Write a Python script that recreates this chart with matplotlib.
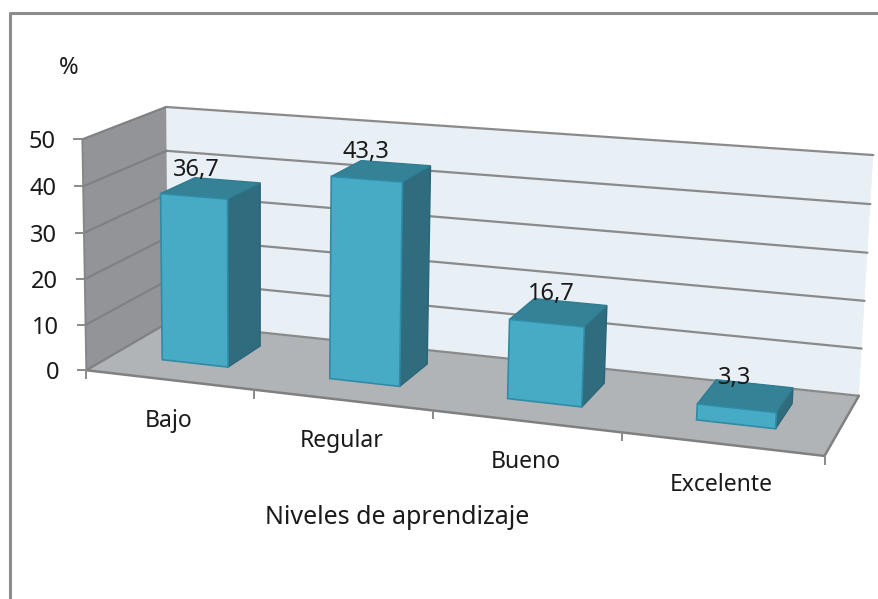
#!/usr/bin/env python3
"""Excel style 3D column chart: niveles de aprendizaje."""

import numpy as np
import matplotlib
matplotlib.use("Agg")
import matplotlib.pyplot as plt
from matplotlib.patches import Polygon

categories = ["Bajo", "Regular", "Bueno", "Excelente"]
values = [36.7, 43.3, 16.7, 3.3]
value_labels = ["36,7", "43,3", "16,7", "3,3"]
y_ticks = [0, 10, 20, 30, 40, 50]

BAR_WIDTH = 0.40
BAR_CENTER = 0.50
BAR_FRONT = 0.32
BAR_BACK = 0.75

# nudges of the value labels, from the top back left corner of a column
LABEL_DX = [1, 5, 17, 18]
LABEL_DY = [-8, -9, -5, -2]

FRONT = "#47abc6"
SIDE = "#2f6c7e"
TOP = "#358196"
EDGE = "#2f8ba6"
GRID = "#8a8a8a"
TEXT = "#1a1a1a"

# camera calibration: (category, value, depth) -> pixel, fitted below
# the back left corners are listed twice to weigh them more
CALIB = [
    (0, 0, 0, 91, 369), (1, 0, 0, 256, 390), (2, 0, 0, 433, 412),
    (3, 0, 0, 622, 434), (4, 0, 0, 823, 456),
    (0, 50, 0, 77, 137), (0, 0, 1, 165, 322), (0, 50, 1, 168, 108),
    (0, 50, 1, 168, 108), (0, 50, 1, 168, 108), (0, 0, 1, 165, 322),
    (4, 0, 1, 860, 395), (4, 50, 1, 873, 154),
    (4, 10, 1, 862, 348), (4, 20, 1, 865, 301),
    (4, 30, 1, 867, 253), (4, 40, 1, 870, 204),
]


def fit_camera(points):
    rows = []
    for u, v, w, x, y in points:
        p = [u, v / 10, w * 4, 1]
        rows.append(p + [0, 0, 0, 0] + [-x * c for c in p])
        rows.append([0, 0, 0, 0] + p + [-y * c for c in p])
    _, _, vt = np.linalg.svd(np.array(rows, dtype=float))
    return vt[-1].reshape(3, 4)


CAM = fit_camera(CALIB)


def proj(u, v, w):
    px = CAM @ np.array([u, v / 10, w * 4, 1.0])
    return px[0] / px[2], px[1] / px[2]


def face(ax, pts, color, edge=None, lw=0.0, z=1):
    ax.add_patch(Polygon([proj(*p) for p in pts], closed=True, facecolor=color,
                         edgecolor=edge if edge else color, linewidth=lw, zorder=z))


def seg(ax, a, b, color=GRID, lw=1.6, z=1.5):
    xa, ya = proj(*a)
    xb, yb = proj(*b)
    ax.plot([xa, xb], [ya, yb], color=color, linewidth=lw, zorder=z,
            solid_capstyle="round")


plt.rcParams["font.family"] = ["Noto Sans", "DejaVu Sans"]
fig = plt.figure(figsize=(8.79, 5.99), dpi=100)
ax = fig.add_axes([0, 0, 1, 1])
ax.set_xlim(0, 879)
ax.set_ylim(599, 0)
ax.axis("off")

# frame of the pasted chart
ax.plot([10.5, 10.5, 879], [599, 13, 13], color="#8c8c8c", linewidth=2.2, zorder=1)

n = len(categories)
top = y_ticks[-1]

# walls and floor
face(ax, [(0, 0, 1), (n, 0, 1), (n, top, 1), (0, top, 1)], "#e8eff5")
face(ax, [(0, 0, 0), (0, 0, 1), (0, top, 1), (0, top, 0)], "#929497")
face(ax, [(0, 0, 0), (n, 0, 0), (n, 0, 1), (0, 0, 1)], "#b1b4b6", z=1.2)

# gridlines on back and side wall
for t in y_ticks:
    seg(ax, (0, t, 1), (n, t, 1))
    seg(ax, (0, t, 0), (0, t, 1), color="#7f8184")
    x0, y0 = proj(0, t, 0)
    ax.plot([x0 - 8, x0], [y0, y0], color=GRID, linewidth=1.4, zorder=1.6)
    ax.text(x0 - 27, y0 + 3, str(t), fontsize=17, ha="right", va="center",
            color=TEXT, zorder=5)

# axis lines and ticks
seg(ax, (0, 0, 0), (0, top, 0), color="#85878a", lw=1.4, z=1.6)
seg(ax, (0, 0, 0), (n, 0, 0), color="#808080", lw=1.8, z=1.6)
seg(ax, (n, 0, 0), (n, 0, 1), color="#808080", lw=1.8, z=1.6)
for i in range(n + 1):
    x0, y0 = proj(i, 0, 0)
    ax.plot([x0, x0], [y0, y0 + 8], color=GRID, linewidth=1.4, zorder=1.6)

# columns
for i, val in enumerate(values):
    l = i + BAR_CENTER - BAR_WIDTH / 2
    r = i + BAR_CENTER + BAR_WIDTH / 2
    f, b = BAR_FRONT, BAR_BACK
    face(ax, [(r, 0, f), (r, 0, b), (r, val, b), (r, val, f)], SIDE, "#2c6577", 1.0, 3)
    face(ax, [(l, val, f), (r, val, f), (r, val, b), (l, val, b)], TOP, "#2f7c92", 1.0, 3)
    face(ax, [(l, 0, f), (r, 0, f), (r, val, f), (l, val, f)], FRONT, EDGE, 1.2, 3.1)
    xl, yl = proj(l, val, b)
    ax.text(xl + LABEL_DX[i], yl + LABEL_DY[i], value_labels[i], fontsize=17,
            ha="center", va="center", color=TEXT, zorder=6)
    xc, yc = proj(i + 0.5, 0, 0)
    ax.text(xc, yc + 41, categories[i], fontsize=16.5, ha="center", va="center",
            color=TEXT, zorder=5)

ax.text(69, 68, "%", fontsize=17, ha="center", va="center", color=TEXT)
ax.text(397, 518, "Niveles de aprendizaje", fontsize=18, ha="center", va="center",
        color=TEXT)

fig.savefig("out.png", dpi=100)
